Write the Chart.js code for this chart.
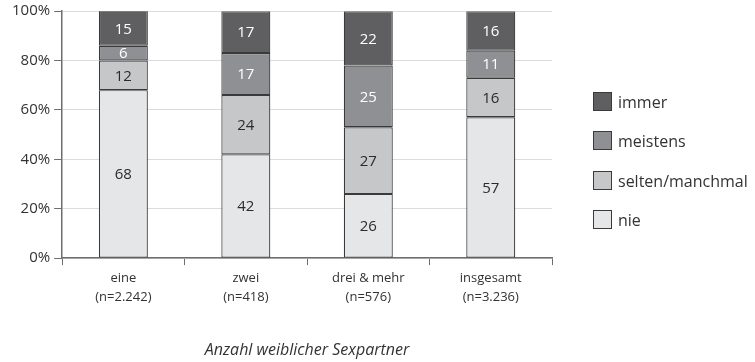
<!DOCTYPE html>
<html lang="de">
<head>
<meta charset="utf-8">
<script src="https://cdn.jsdelivr.net/npm/chart.js@4"></script>
<style>
  html, body { margin: 0; padding: 0; background: #fff; }
  #wrap { width: 755px; height: 362px; position: relative; }
</style>
</head>
<body>
<div id="wrap"><canvas id="c" width="755" height="362"></canvas></div>
<script>
// Kategorien (Anzahl weiblicher Sexpartner) mit Fallzahlen
const categories = [
  ['eine', '(n=2.242)'],
  ['zwei', '(n=418)'],
  ['drei & mehr', '(n=576)'],
  ['insgesamt', '(n=3.236)']
];

// Anteile in Prozent je Antwortkategorie
const nie = [68, 42, 26, 57];
const selten = [12, 24, 27, 16];
const meistens = [6, 17, 25, 11];
const immer = [15, 17, 22, 16];

const seriesLabels = ['nie', 'selten/manchmal', 'meistens', 'immer'];
const yTicks = [0, 20, 40, 60, 80, 100];

const fills = ['#e5e6e8', '#c6c7c9', '#8f9094', '#5f5f62'];
const labelColors = ['#2b2b2b', '#2b2b2b', '#ffffff', '#ffffff'];
const FONT = "'Open Sans', 'Noto Sans', sans-serif";
const TEXT = '#333333';

const seriesValues = [nie, selten, meistens, immer];
const datasets = seriesValues.map((vals, i) => ({
  label: seriesLabels[i],
  data: vals,
  backgroundColor: fills[i],
  borderColor: '#3a3a3a',
  borderWidth: 1.2,
  borderSkipped: false,
  categoryPercentage: 1.0,
  barPercentage: 0.4
}));

// Zahlen mittig in die sichtbaren Segmente schreiben
const segmentLabels = {
  id: 'segmentLabels',
  afterDatasetsDraw(chart) {
    const ctx = chart.ctx;
    const area = chart.chartArea;
    ctx.save();
    ctx.font = '15px ' + FONT;
    ctx.textAlign = 'center';
    ctx.textBaseline = 'middle';
    chart.data.datasets.forEach((ds, di) => {
      const meta = chart.getDatasetMeta(di);
      meta.data.forEach((bar, j) => {
        const top = Math.max(Math.min(bar.y, bar.base), area.top);
        const bottom = Math.min(Math.max(bar.y, bar.base), area.bottom);
        if (bottom <= top) return;
        ctx.fillStyle = labelColors[di];
        ctx.fillText(String(ds.data[j]), bar.x, (top + bottom) / 2 + 1);
      });
    });
    ctx.restore();
  }
};

// Legende rechts neben dem Diagramm, oberste Kategorie zuerst
const sideLegend = {
  id: 'sideLegend',
  afterDraw(chart) {
    const ctx = chart.ctx;
    const area = chart.chartArea;
    const x0 = area.right + 41;
    const y0 = area.top + 81;
    const step = 39.3;
    const box = 18;
    ctx.save();
    ctx.font = '16px ' + FONT;
    ctx.textBaseline = 'middle';
    ctx.textAlign = 'left';
    const n = chart.data.datasets.length;
    for (let k = 0; k < n; k++) {
      const di = n - 1 - k;
      const ds = chart.data.datasets[di];
      const y = Math.round(y0 + k * step) + 0.5;
      ctx.fillStyle = ds.backgroundColor;
      ctx.fillRect(x0 + 0.5, y, box, box);
      ctx.strokeStyle = '#3a3a3a';
      ctx.lineWidth = 1;
      ctx.strokeRect(x0 + 0.5, y, box, box);
      ctx.fillStyle = TEXT;
      ctx.fillText(ds.label, x0 + box + 7, y + box / 2 + 2);
    }
    ctx.restore();
  }
};

new Chart(document.getElementById('c'), {
  type: 'bar',
  data: { labels: categories, datasets },
  plugins: [segmentLabels, sideLegend],
  options: {
    responsive: false,
    animation: false,
    layout: { padding: { left: 8, right: 203, top: 0, bottom: 2 } },
    plugins: {
      legend: { display: false },
      tooltip: { enabled: false }
    },
    scales: {
      x: {
        stacked: true,
        offset: true,
        grid: {
          offset: true,
          drawOnChartArea: true,
          color: (c) => (c.index === categories.length ? '#d8d8d8' : 'rgba(0,0,0,0)'),
          tickColor: '#6e6e6e',
          tickLength: 7
        },
        border: { color: '#6e6e6e', width: 1.5 },
        ticks: {
          color: TEXT,
          font: { family: FONT, size: 13, lineHeight: 1.45 },
          padding: 4,
          maxRotation: 0
        },
        title: {
          display: true,
          text: 'Anzahl weiblicher Sexpartner',
          color: TEXT,
          font: { family: FONT, size: 16, style: 'italic' },
          padding: { top: 30, bottom: 0 }
        }
      },
      y: {
        stacked: true,
        min: 0,
        max: 100,
        afterBuildTicks: (s) => { s.ticks = yTicks.map(v => ({ value: v })); },
        grid: {
          color: '#dcdcdc',
          tickColor: '#6e6e6e',
          tickLength: 8
        },
        border: { color: '#6e6e6e', width: 1.5 },
        ticks: {
          color: TEXT,
          font: { family: FONT, size: 15, lineHeight: 0.95 },
          padding: 4,
          callback: (v) => v + '%'
        }
      }
    }
  }
});
</script>
</body>
</html>
